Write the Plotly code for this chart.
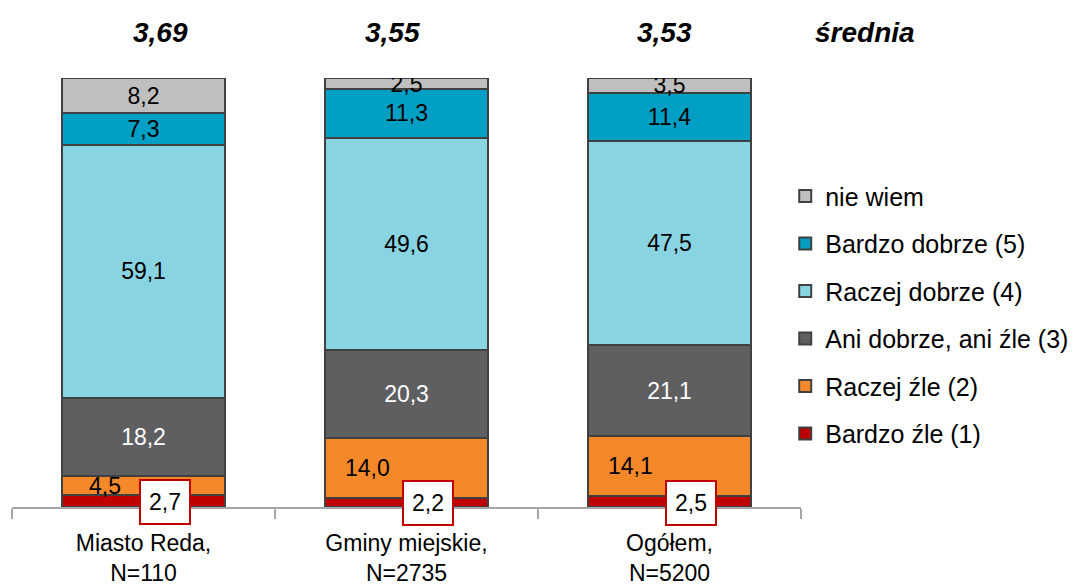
import plotly.graph_objects as go

# ---- data ----
categories = ["Miasto Reda,<br>N=110", "Gminy miejskie,<br>N=2735", "Ogółem,<br>N=5200"]
means = [3.69, 3.55, 3.53]
mean_label = "średnia"

series_names = ["Bardzo źle (1)", "Raczej źle (2)", "Ani dobrze, ani źle (3)",
                "Raczej dobrze (4)", "Bardzo dobrze (5)", "nie wiem"]
bardzo_zle = [2.7, 2.2, 2.5]
raczej_zle = [4.5, 14.0, 14.1]
ani = [18.2, 20.3, 21.1]
raczej_dobrze = [59.1, 49.6, 47.5]
bardzo_dobrze = [7.3, 11.3, 11.4]
nie_wiem = [8.2, 2.5, 3.5]

# ---- style ----
FONT = "Liberation Sans, Arial, sans-serif"
colors = ["#C00000", "#F5892A", "#5F5F61", "#89D4E3", "#009FC3", "#BFBFBF"]
text_colors = ["black", "black", "white", "black", "black", "black"]
outline = "#404040"
LABEL_SIZE = 23

def fmt(v, d=1):
    return f"{v:.{d}f}".replace(".", ",")

values = [bardzo_zle, raczej_zle, ani, raczej_dobrze, bardzo_dobrze, nie_wiem]
n_series = len(values)

fig = go.Figure()
for i, (name, vals) in enumerate(zip(series_names, values)):
    inside = i >= 2
    fig.add_trace(go.Bar(
        x=categories, y=vals, name=name,
        marker=dict(color=colors[i], line=dict(color=outline, width=2)),
        text=[fmt(v) for v in vals] if inside else None,
        textposition="inside" if inside else "none",
        insidetextanchor="middle",
        constraintext="none",
        textfont=dict(family=FONT, size=LABEL_SIZE, color=text_colors[i]),
        legendgroup=name,
        legendrank=n_series - i,
        width=0.62,
        hoverinfo="skip",
    ))

annotations = []
# Raczej źle labels (shifted left)
for c, lo, v in zip(categories, bardzo_zle, raczej_zle):
    annotations.append(dict(
        x=c, y=lo + v / 2, xref="x", yref="y", text=fmt(v), showarrow=False,
        xshift=-39, font=dict(family=FONT, size=LABEL_SIZE, color="black")))
# Bardzo źle labels (boxed)
for c, v in zip(categories, bardzo_zle):
    annotations.append(dict(
        x=c, y=v / 2, xref="x", yref="y", text=fmt(v), showarrow=False,
        xshift=21, yshift=-1, bgcolor="white", bordercolor="#C00000", borderwidth=2,
        borderpad=8, font=dict(family=FONT, size=LABEL_SIZE, color="black")))
# means
mean_shifts = [17, -14, -5]
for c, m, s in zip(categories, means, mean_shifts):
    annotations.append(dict(
        x=c, y=1.107, xref="x", yref="paper", text=f"<b><i>{fmt(m, 2)}</i></b>",
        showarrow=False, xshift=s, xanchor="center", yanchor="middle",
        font=dict(family=FONT, size=28, color="black")))
annotations.append(dict(
    x=1.081, y=1.107, xref="paper", yref="paper", text=f"<b><i>{mean_label}</i></b>",
    showarrow=False, xanchor="center", yanchor="middle",
    font=dict(family=FONT, size=28, color="black")))

fig.update_layout(
    width=1083, height=587,
    barmode="stack",
    plot_bgcolor="white", paper_bgcolor="white",
    margin=dict(l=4, r=290, t=70, b=88),
    font=dict(family=FONT, size=23, color="black"),
    showlegend=True,
    legend=dict(x=0.980, y=0.778, xanchor="left", yanchor="top",
                traceorder="grouped", tracegroupgap=12,
                font=dict(family=FONT, size=25, color="black"),
                bgcolor="rgba(0,0,0,0)"),
    xaxis=dict(showline=True, linecolor="#A6A6A6", linewidth=1.5,
               ticks="outside", tickson="boundaries", ticklen=10, tickcolor="#A6A6A6",
               tickwidth=1.5, ticklabelstandoff=15,
               tickfont=dict(family=FONT, size=23, color="black"),
               showgrid=False, fixedrange=True),
    yaxis=dict(range=[0, 100], visible=False, showgrid=False, fixedrange=True),
    annotations=annotations,
)

fig.write_html("out.html")
